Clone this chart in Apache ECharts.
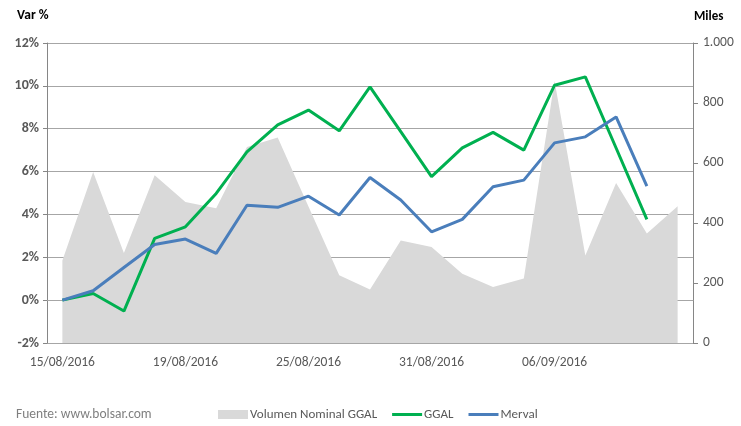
<!DOCTYPE html>
<html>
<head>
    <meta charset="UTF-8">
    <title>GGAL vs Merval</title>
    <script src="https://cdn.jsdelivr.net/npm/echarts@6/dist/echarts.min.js"></script>
    <style>
        html, body { margin: 0; padding: 0; background: #fff; }
        #chart { width: 741px; height: 426px; }
    </style>
</head>
<body>
    <div id="chart"></div>
    <script>
        // fechas (ruedas)
        var fechas = ['15/08/2016','16/08/2016','17/08/2016','18/08/2016','19/08/2016',
            '22/08/2016','23/08/2016','24/08/2016','25/08/2016','26/08/2016',
            '29/08/2016','30/08/2016','31/08/2016','01/09/2016','02/09/2016',
            '05/09/2016','06/09/2016','07/09/2016','08/09/2016','09/09/2016','12/09/2016'];

        // volumen nominal GGAL (miles)
        var volumen = [275, 570, 300, 559, 470, 449, 653, 685, 455, 226,
            178, 342, 320, 231, 187, 215, 873, 292, 533, 365, 456];

        // variacion % acumulada
        var ggal = [0, 0.31, -0.51, 2.88, 3.42, 4.98, 6.92, 8.18, 8.87, 7.9,
            9.95, 7.86, 5.76, 7.11, 7.83, 7.0, 10.03, 10.42, 7.1, 3.77];
        var merval = [0, 0.44, 1.52, 2.6, 2.85, 2.18, 4.43, 4.33, 4.85, 3.97,
            5.72, 4.67, 3.19, 3.77, 5.29, 5.6, 7.34, 7.62, 8.55, 5.32];

        var fuente = 'Calibri, Carlito, Lato, sans-serif';
        var gris = '#595959';
        var iconoLinea = 'path://M0,0 L30,0 L30,3 L0,3 Z';

        var chart = echarts.init(document.getElementById('chart'));
        chart.setOption({
            animation: false,
            textStyle: { fontFamily: fuente },
            grid: { left: 47, right: 48, top: 43, bottom: 83, containLabel: false },
            legend: {
                left: 213,
                top: 403,
                itemWidth: 30,
                itemHeight: 9,
                itemGap: 15,
                symbolKeepAspect: true,
                textStyle: { color: gris, fontSize: 13, fontFamily: fuente, padding: [0, 0, 0, -3] },
                data: [
                    { name: 'Volumen Nominal GGAL', icon: 'rect', itemStyle: { color: '#D9D9D9' } },
                    { name: 'GGAL', icon: iconoLinea },
                    { name: 'Merval', icon: iconoLinea }
                ]
            },
            graphic: [
                { type: 'text', left: 17, top: 9, style: { text: 'Var %', fontFamily: fuente, fontSize: 13.5, fontWeight: 'bold', fill: '#000' } },
                { type: 'text', left: 694, top: 10, style: { text: 'Miles', fontFamily: fuente, fontSize: 13, fontWeight: 'bold', fill: '#000' } },
                { type: 'text', left: 16, top: 408, style: { text: 'Fuente: www.bolsar.com', fontFamily: fuente, fontSize: 13.5, fill: '#7f7f7f' } }
            ],
            xAxis: {
                type: 'category',
                data: fechas,
                boundaryGap: true,
                axisLine: { lineStyle: { color: '#A6A6A6', width: 1 } },
                axisTick: { show: false },
                axisLabel: {
                    color: gris, fontSize: 13.5, margin: 13,
                    interval: function (i) { return i % 4 === 0 && i < 20; }
                }
            },
            yAxis: [
                {
                    type: 'value',
                    min: -2, max: 12, interval: 2,
                    axisLine: { show: true, lineStyle: { color: '#868686' } },
                    axisTick: { show: true, length: 4, lineStyle: { color: '#868686' } },
                    axisLabel: { formatter: '{value}%', color: gris, fontSize: 14, fontWeight: 'bold', margin: 8 },
                    splitLine: { lineStyle: { color: '#A6A6A6', width: 1 } }
                },
                {
                    type: 'value',
                    min: 0, max: 1000, interval: 200,
                    position: 'right',
                    axisLine: { show: true, lineStyle: { color: '#868686' } },
                    axisTick: { show: true, length: 5, lineStyle: { color: '#868686' } },
                    axisLabel: {
                        color: gris, fontSize: 13.5, margin: 10,
                        formatter: function (v) { return v === 1000 ? '1.000' : String(v); }
                    },
                    splitLine: { show: false }
                }
            ],
            series: [
                {
                    name: 'Volumen Nominal GGAL',
                    type: 'line',
                    yAxisIndex: 1,
                    data: volumen,
                    symbol: 'none',
                    lineStyle: { width: 0 },
                    itemStyle: { color: '#D9D9D9' },
                    areaStyle: { color: '#D9D9D9', opacity: 1 },
                    z: 1
                },
                {
                    name: 'GGAL',
                    type: 'line',
                    data: ggal,
                    symbol: 'none',
                    lineStyle: { color: '#00B050', width: 3 },
                    itemStyle: { color: '#00B050' },
                    z: 3
                },
                {
                    name: 'Merval',
                    type: 'line',
                    data: merval,
                    symbol: 'none',
                    lineStyle: { color: '#4A7EBB', width: 3 },
                    itemStyle: { color: '#4A7EBB' },
                    z: 4
                }
            ]
        });
    </script>
</body>
</html>
